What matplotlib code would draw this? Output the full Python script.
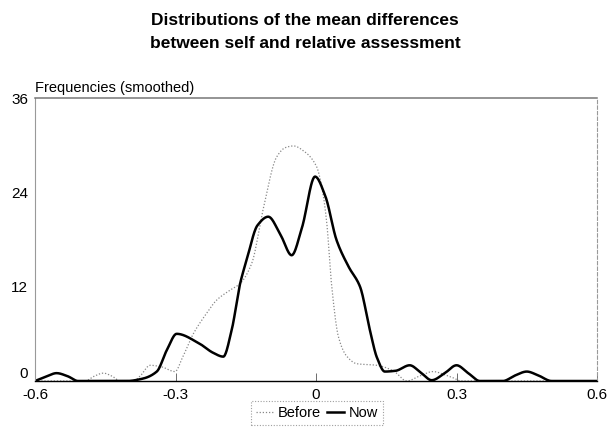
import numpy as np
import matplotlib
matplotlib.use("Agg")
import matplotlib.pyplot as plt

# Data
now_x = [-0.6, -0.575, -0.554, -0.53, -0.508, -0.45, -0.404, -0.37, -0.34, -0.318, -0.2975,
         -0.25, -0.22, -0.198, -0.18, -0.162, -0.148, -0.125, -0.102, -0.075, -0.052,
         -0.03, -0.002, 0.02, 0.044, 0.07, 0.094, 0.115, 0.13, 0.147, 0.17, 0.2, 0.225,
         0.247, 0.275, 0.3, 0.325, 0.35, 0.399, 0.425, 0.45, 0.475, 0.503, 0.6]
now_y = [0.0, 0.6, 1.0, 0.6, 0.0, 0.0, 0.0, 0.3, 1.2, 4.0, 6.0,
         4.8, 3.6, 3.1, 6.5, 12.4, 15.4, 19.8, 20.9, 18.5, 16.0,
         19.5, 26.0, 23.5, 17.9, 14.5, 12.0, 6.5, 3.0, 1.2, 1.3, 2.0, 1.0,
         0.1, 1.0, 2.0, 1.0, 0.0, 0.0, 0.7, 1.2, 0.7, 0.0, 0.0]

before_x = [-0.6, -0.493, -0.474, -0.454, -0.435, -0.418, -0.39, -0.376, -0.354, -0.33,
            -0.301, -0.285, -0.262, -0.235, -0.212, -0.185, -0.162, -0.137, -0.113, -0.084,
            -0.065, -0.048, -0.025, 0.001, 0.013, 0.023, 0.033, 0.048, 0.065, 0.087, 0.13,
            0.165, 0.194, 0.22, 0.25, 0.275, 0.293, 0.31, 0.6]
before_y = [0.0, 0.0, 0.6, 1.0, 0.6, 0.0, 0.0, 0.6, 2.0, 1.8,
            1.2, 3.0, 6.0, 8.5, 10.3, 11.5, 12.4, 15.0, 21.8, 28.5,
            29.7, 29.9, 29.2, 27.3, 24.5, 20.1, 12.4, 5.6, 3.2, 2.2, 2.0,
            1.3, 0.0, 0.6, 1.2, 0.8, 0.4, 0.0, 0.0]

x_ticks = [-0.6, -0.3, 0, 0.3, 0.6]
x_labels = ["-0.6", "-0.3", "0", "0.3", "0.6"]
y_ticks = [0, 12, 24, 36]
y_labels = ["0", "12", "24", "36"]


def pchip(x, y, n=1200):
    x = np.asarray(x, float); y = np.asarray(y, float)
    h = np.diff(x); d = np.diff(y) / h
    m = np.zeros_like(y)
    for k in range(1, len(x) - 1):
        if d[k - 1] * d[k] > 0:
            w1 = 2 * h[k] + h[k - 1]; w2 = h[k] + 2 * h[k - 1]
            m[k] = (w1 + w2) / (w1 / d[k - 1] + w2 / d[k])
    m[0] = 0.0 if d[0] == 0 else d[0]
    m[-1] = 0.0 if d[-1] == 0 else d[-1]
    xs = np.linspace(x[0], x[-1], n)
    idx = np.clip(np.searchsorted(x, xs) - 1, 0, len(h) - 1)
    t = (xs - x[idx]) / h[idx]
    h00 = 2 * t**3 - 3 * t**2 + 1; h10 = t**3 - 2 * t**2 + t
    h01 = -2 * t**3 + 3 * t**2; h11 = t**3 - t**2
    ys = h00 * y[idx] + h10 * h[idx] * m[idx] + h01 * y[idx + 1] + h11 * h[idx] * m[idx + 1]
    return xs, ys


plt.rcParams['font.family'] = ['Liberation Sans', 'DejaVu Sans']
fig = plt.figure(figsize=(6.1, 4.3), dpi=100)
ax = fig.add_axes([35 / 610, 1 - 381 / 430, 562 / 610, 283 / 430])

bx, by = pchip(before_x, before_y)
nx, ny = pchip(now_x, now_y)
lb, = ax.plot(bx, by, color='#888888', lw=0.9, ls=(0, (1, 1.5)), label='Before')
ln, = ax.plot(nx, ny, color='black', lw=1.8, label='Now')

ax.set_xlim(-0.6, 0.6)
ax.set_ylim(0, 36)
ax.set_xticks(x_ticks)
ax.set_xticklabels(x_labels, fontsize=11)
ax.set_yticks(y_ticks)
ax.set_yticklabels(y_labels, fontsize=11)
ax.tick_params(axis='x', direction='in', length=6, width=0.6, color='#555555', pad=5)
ax.tick_params(axis='y', length=0, pad=5)
for s in ['top', 'right', 'left']:
    ax.spines[s].set_color('#999999')
    ax.spines[s].set_linewidth(0.8)
ax.spines['top'].set_color('#777777')
ax.spines['top'].set_linewidth(1.1)
ax.spines['top'].set_linestyle((0, (6, 1, 1, 1)))
ax.spines['right'].set_linestyle((0, (3, 2)))
ax.spines['bottom'].set_color('black')
ax.spines['bottom'].set_linewidth(1.0)
ax.get_yticklabels()[0].set_y(0.0)
ax.get_yticklabels()[0].set_va('bottom')

ax.text(0.0, 1.012, "Frequencies (smoothed)", transform=ax.transAxes,
        fontsize=10.5, ha='left', va='bottom')

fig.text(0.5, 0.952, "Distributions of the mean differences", ha='center', va='center',
         fontsize=12.5, fontweight='bold')
fig.text(0.5, 0.898, "between self and relative assessment", ha='center', va='center',
         fontsize=12.5, fontweight='bold')

leg = fig.legend(handles=[lb, ln], loc='center', bbox_to_anchor=(0.52, 0.040), ncol=2,
                 fontsize=10.5, frameon=True, fancybox=False, handlelength=1.2,
                 handletextpad=0.3, columnspacing=0.4, borderpad=0.35, borderaxespad=0)
fr = leg.get_frame()
fr.set_edgecolor('#888888'); fr.set_linestyle((0, (1, 1.5))); fr.set_linewidth(0.8)

fig.savefig("out.png", dpi=100)
